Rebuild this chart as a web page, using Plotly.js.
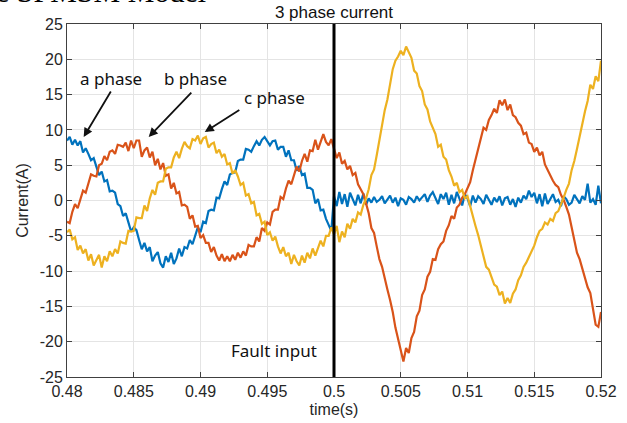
<!DOCTYPE html>
<html>
<head>
<meta charset="utf-8">
<script src="https://cdn.plot.ly/plotly-3.0.1.min.js"></script>
<style>
  html, body { margin: 0; padding: 0; background: #ffffff; }
  #chart { width: 627px; height: 423px; }
</style>
</head>
<body>
<div id="chart"></div>
<script>
// ---- data (sampled every 0.0002 s from 0.48 s to 0.52 s) ----
const tStart = 0.48;
const tStep = 0.0002;
const faultTime = 0.5;

const xTickVals = [0.48, 0.485, 0.49, 0.495, 0.5, 0.505, 0.51, 0.515, 0.52];
const xTickLabels = ["0.48", "0.485", "0.49", "0.495", "0.5", "0.505", "0.51", "0.515", "0.52"];
const yTickVals = [-25, -20, -15, -10, -5, 0, 5, 10, 15, 20, 25];
const yTickLabels = ["-25", "-20", "-15", "-10", "-5", "0", "5", "10", "15", "20", "25"];

const phaseA = [
  8.5, 9.0, 7.9, 8.6, 7.8, 8.4, 6.8, 7.4, 6.6, 5.7,
  6.0, 4.8, 3.6, 4.1, 2.7, 2.9, 1.3, 1.4, 1.1, -0.5,
  -0.8, -2.2, -1.8, -3.1, -4.4, -3.8, -4.2, -5.6, -6.9, -6.0,
  -7.2, -6.6, -8.6, -7.8, -7.3, -8.9, -9.5, -7.9, -8.7, -7.4,
  -9.0, -8.2, -6.8, -7.9, -6.6, -6.8, -5.6, -6.2, -4.9, -3.8,
  -4.5, -3.0, -3.2, -1.5, -1.3, -1.4, 0.4, 0.3, 1.6, 2.7,
  2.2, 3.7, 3.9, 4.0, 5.6, 5.8, 5.8, 7.3, 7.2, 6.9,
  7.7, 8.4, 7.8, 8.6, 9.0, 8.4, 7.8, 8.4, 8.5, 7.2,
  7.6, 7.6, 6.2, 7.1, 5.7, 5.7, 4.2, 4.9, 3.6, 3.8,
  1.8, 1.8, 1.5, -0.4, 0.2, -1.4, -1.3, -2.6, -3.6, -4.3,
  0.6, -0.8, 1.2, -0.5, 0.9, -0.9, 1.1, 0.2, -0.7, 0.8,
  -0.4, 1.0, -0.6, 0.3, -0.3, 0.5, -0.2, 0.1, 0.6, -0.4,
  0.2, 0.7, -0.3, 0.4, -0.8, 0.3, 0.1, -0.6, 0.5, 0.2,
  -0.3, 0.6, 0.0, 0.4, 0.9, -0.2, 0.7, 1.2, 0.3, -0.5,
  0.9, 0.2, 1.1, -0.6, 0.8, -0.4, 1.2, 0.1, -0.7, 0.9,
  0.3, -0.8, 0.7, -0.3, 0.6, 0.2, -0.5, 0.8, 0.1, -0.6,
  0.4, -0.2, 0.6, -0.7, 0.3, 0.5, -0.6, 0.2, -0.9, 0.4,
  -0.3, 0.7, 0.2, 1.4, 0.5, 1.1, -0.4, 0.9, -0.8, 1.0,
  -0.5, 0.3, 0.9, -0.2, 0.1, -0.8, 0.6, 0.2, -0.6, -0.3,
  0.8, 0.2, -0.4, 0.6, 0.1, 2.4, -0.3, 0.2, -0.6, 2.1,
  -0.4
];

const phaseB = [
  -3.0, -3.2, -1.6, -0.5, -1.1, 0.2, 1.4, 1.1, 2.4, 3.7,
  3.5, 3.4, 5.0, 5.2, 6.3, 5.7, 6.9, 7.1, 6.6, 7.9,
  7.8, 7.6, 8.2, 7.0, 8.5, 7.4, 8.5, 8.5, 6.2, 7.1,
  7.5, 6.1, 6.9, 5.0, 5.9, 4.4, 5.3, 3.5, 3.7, 1.7,
  2.5, 1.0, 1.2, -0.7, -0.6, -0.9, -2.6, -2.1, -3.7, -3.6,
  -5.3, -4.9, -6.0, -6.0, -7.3, -6.6, -7.8, -8.5, -7.6, -8.6,
  -7.9, -8.6, -7.7, -8.4, -7.4, -8.1, -7.2, -7.8, -6.3, -6.5,
  -6.5, -5.2, -5.8, -3.9, -4.3, -3.1, -3.4, -1.6, -1.3, -1.3,
  0.5, 0.2, 1.7, 2.8, 2.3, 3.6, 4.8, 4.1, 5.6, 6.6,
  5.5, 7.1, 7.0, 8.6, 7.2, 8.3, 9.4, 8.3, 7.8, 8.7,
  7.3, 6.0, 6.8, 5.2, 5.6, 4.4, 4.9, 3.6, 3.9, 2.3,
  1.6, 0.9, -0.4, -1.8, -3.9, -4.6, -6.5, -8.3, -9.4, -11.2,
  -12.6, -14.1, -15.8, -18.0, -19.6, -21.2, -22.8, -20.9, -21.6, -19.5,
  -18.6, -16.4, -15.6, -13.4, -12.6, -10.8, -10.1, -8.3, -8.4, -6.9,
  -6.2, -5.8, -4.3, -3.5, -2.2, -2.6, -1.0, -0.6, 0.4, 0.9,
  1.9, 2.6, 4.3, 5.8, 7.4, 8.6, 10.3, 10.0, 11.4, 12.1,
  13.0, 12.4, 14.2, 13.5, 14.3, 12.8, 13.6, 12.1, 11.8, 11.0,
  10.6, 9.4, 9.6, 8.2, 8.0, 6.9, 7.5, 6.4, 6.9, 5.1,
  4.3, 3.6, 2.8, 2.2, 1.9, 0.8, 0.1, -0.9, -2.0, -3.8,
  -5.6, -7.4, -8.3, -9.6, -10.8, -12.3, -13.1, -15.2, -17.6, -17.9,
  -15.8
];

const phaseC = [
  -4.5, -4.1, -5.5, -5.2, -7.0, -6.4, -7.5, -6.9, -8.5, -7.6,
  -9.2, -8.5, -7.7, -9.5, -7.9, -8.6, -7.2, -7.9, -6.9, -7.5,
  -5.8, -6.0, -6.1, -4.3, -4.4, -4.3, -2.4, -2.5, -2.5, -0.7,
  -1.5, 0.3, 1.5, 0.8, 2.5, 2.7, 2.7, 4.5, 4.7, 4.7,
  6.1, 6.9, 6.0, 7.3, 8.3, 7.7, 7.4, 8.7, 8.5, 9.2,
  8.0, 8.8, 9.0, 7.5, 8.0, 8.2, 6.7, 7.2, 6.2, 6.6,
  5.1, 5.3, 3.8, 4.3, 3.4, 2.2, 2.5, 0.7, 0.9, -0.4,
  -0.2, -2.1, -1.9, -3.3, -3.0, -4.9, -4.5, -5.7, -5.1, -6.5,
  -7.5, -6.6, -7.9, -7.4, -9.0, -7.7, -8.6, -9.2, -7.8, -8.8,
  -7.4, -8.2, -6.8, -7.8, -6.6, -5.7, -6.5, -5.0, -5.0, -3.8,
  -4.8, -3.6, -5.9, -4.4, -5.2, -3.3, -4.0, -2.6, -3.1, -1.7,
  -2.0, -0.6, 0.3, 1.6, 3.6, 4.4, 6.4, 8.6, 10.4, 12.8,
  14.3, 16.2, 18.6, 19.8, 20.4, 21.2, 20.6, 21.8, 20.9, 20.2,
  18.4, 18.0, 16.2, 15.5, 13.6, 12.9, 11.2, 10.3, 9.4, 7.6,
  7.9, 6.2, 5.8, 4.3, 3.4, 2.1, 2.5, 1.2, 1.5, 0.3,
  0.6, -0.8, -2.4, -3.6, -4.9, -6.3, -7.8, -9.4, -9.8, -11.0,
  -11.9, -12.2, -13.4, -12.9, -14.6, -13.8, -14.5, -13.2, -12.6, -11.3,
  -10.6, -9.4, -8.8, -8.0, -7.1, -6.4, -5.2, -4.3, -4.0, -3.1,
  -3.4, -2.6, -2.9, -1.8, -1.5, -0.6, 0.4, 1.5, 2.4, 4.3,
  5.6, 7.3, 9.2, 11.0, 12.6, 14.1, 16.4, 15.8, 17.6, 16.9,
  19.8
];

const seriesNames = ["a phase", "b phase", "c phase"];
const seriesColors = ["#0072BD", "#D95319", "#EDB120"];

// sample times
const time = phaseA.map((_, i) => +(tStart + i * tStep).toFixed(5));

const traces = [phaseA, phaseB, phaseC].map((vals, i) => ({
  type: "scatter",
  mode: "lines",
  x: time,
  y: vals,
  name: seriesNames[i],
  line: { color: seriesColors[i], width: 2.2 },
  showlegend: false
}));

const tickFont = { family: "Liberation Sans, Arial, sans-serif", size: 16, color: "#262626" };
const noteFont = { family: "Noto Sans, sans-serif", size: 17, color: "#111111" };

const layout = {
  width: 627,
  height: 423,
  margin: { l: 67, r: 26, t: 24, b: 46, pad: 0 },
  paper_bgcolor: "#ffffff",
  plot_bgcolor: "#ffffff",
  showlegend: false,
  title: {
    text: "3 phase current",
    font: { family: "Liberation Sans, Arial, sans-serif", size: 17, color: "#111111" },
    xref: "paper", x: 0.5, xanchor: "center",
    yref: "container", y: 1 - 12 / 423, yanchor: "middle"
  },
  xaxis: {
    range: [0.48, 0.52],
    tickmode: "array", tickvals: xTickVals, ticktext: xTickLabels,
    showgrid: true, gridcolor: "#e4e4e4", gridwidth: 1,
    zeroline: false,
    showline: true, linecolor: "#404040", linewidth: 1, mirror: "ticks",
    ticks: "inside", ticklen: 5, tickcolor: "#404040",
    tickfont: tickFont,
    title: { text: "time(s)", font: { family: "Liberation Sans, Arial, sans-serif", size: 16, color: "#262626" }, standoff: 4 }
  },
  yaxis: {
    range: [-25, 25],
    tickmode: "array", tickvals: yTickVals, ticktext: yTickLabels,
    showgrid: true, gridcolor: "#e4e4e4", gridwidth: 1,
    zeroline: false,
    showline: true, linecolor: "#404040", linewidth: 1, mirror: "ticks",
    ticks: "inside", ticklen: 5, tickcolor: "#404040",
    tickfont: tickFont,
    title: { text: "Current(A)", font: { family: "Liberation Sans, Arial, sans-serif", size: 16, color: "#262626" }, standoff: 7 }
  },
  shapes: [
    { type: "line", xref: "x", yref: "paper", x0: faultTime, x1: faultTime, y0: 0, y1: 1,
      line: { color: "#000000", width: 3 } }
  ],
  annotations: [
    { text: "e SPMSM Model", xref: "paper", yref: "paper", x: -0.137, y: 1.040,
      xanchor: "left", yanchor: "bottom", showarrow: false,
      font: { family: "Liberation Serif, Times New Roman, serif", size: 30, color: "#000000" } },
    { text: "a phase", xref: "x", yref: "y", x: 0.48328, y: 17.35, showarrow: false, font: noteFont },
    { text: "b phase", xref: "x", yref: "y", x: 0.48965, y: 17.35, showarrow: false, font: noteFont },
    { text: "c phase", xref: "x", yref: "y", x: 0.49555, y: 14.66, showarrow: false, font: noteFont },
    { text: "Fault input", xref: "x", yref: "y", x: 0.49551, y: -21.2, showarrow: false, font: noteFont },
    { text: "", xref: "x", yref: "y", axref: "x", ayref: "y",
      x: 0.48125, y: 8.99, ax: 0.48335, ay: 15.65,
      showarrow: true, arrowhead: 2, arrowsize: 1, arrowwidth: 1.8, arrowcolor: "#111111", standoff: 0 },
    { text: "", xref: "x", yref: "y", axref: "x", ayref: "y",
      x: 0.48612, y: 9.0, ax: 0.48942, ay: 15.5,
      showarrow: true, arrowhead: 2, arrowsize: 1, arrowwidth: 1.8, arrowcolor: "#111111", standoff: 0 },
    { text: "", xref: "x", yref: "y", axref: "x", ayref: "y",
      x: 0.49032, y: 9.7, ax: 0.49302, ay: 12.96,
      showarrow: true, arrowhead: 2, arrowsize: 1, arrowwidth: 1.8, arrowcolor: "#111111", standoff: 0 }
  ]
};

Plotly.newPlot("chart", traces, layout, { displayModeBar: false, staticPlot: true });
</script>
</body>
</html>
